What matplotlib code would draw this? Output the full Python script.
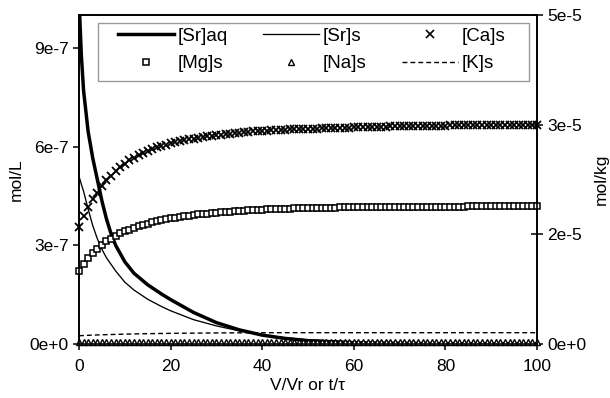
import matplotlib
matplotlib.use("Agg")
import matplotlib.pyplot as plt
from matplotlib.lines import Line2D
from matplotlib.patches import Rectangle

plt.rcParams['font.family'] = ['Liberation Sans', 'DejaVu Sans']
plt.rcParams['font.size'] = 12.5

# ------- data (micromol units; axes are labelled in mol)
# marker series, one point per unit of V/Vr
t_pts = list(range(0, 101))

ca_s = [17.8, 19.4, 20.8, 22.0, 23.0, 24.0, 24.9, 25.6, 26.3, 26.9, 27.4,
        27.9, 28.3, 28.7, 29.0, 29.3, 29.6, 29.9, 30.1, 30.3, 30.5,
        30.7, 30.85, 31.0, 31.1, 31.2, 31.35, 31.45, 31.55, 31.65, 31.7,
        31.8, 31.85, 31.95, 32.0, 32.1, 32.15, 32.2, 32.3, 32.3, 32.35,
        32.4, 32.45, 32.5, 32.5, 32.55, 32.6, 32.6, 32.65, 32.7, 32.7,
        32.75, 32.75, 32.8, 32.8, 32.85, 32.85, 32.9, 32.9, 32.9, 32.95,
        32.95, 33.0, 33.0, 33.0, 33.05, 33.05, 33.05, 33.1, 33.1, 33.1,
        33.1, 33.15, 33.15, 33.15, 33.15, 33.2, 33.2, 33.2, 33.2, 33.2,
        33.25, 33.25, 33.25, 33.25, 33.25, 33.25, 33.3, 33.3, 33.3, 33.3,
        33.3, 33.3, 33.3, 33.3, 33.3, 33.3, 33.3, 33.35, 33.35, 33.35]

mg_s = [11.1, 12.2, 13.1, 13.9, 14.5, 15.1, 15.6, 16.0, 16.4, 16.8, 17.1,
        17.4, 17.6, 17.9, 18.1, 18.3, 18.5, 18.7, 18.85, 19.0, 19.1,
        19.2, 19.3, 19.4, 19.5, 19.6, 19.7, 19.75, 19.8, 19.9, 19.95,
        20.0, 20.05, 20.1, 20.15, 20.2, 20.25, 20.3, 20.35, 20.4, 20.4,
        20.45, 20.45, 20.5, 20.5, 20.55, 20.55, 20.6, 20.6, 20.6, 20.65,
        20.65, 20.65, 20.7, 20.7, 20.7, 20.7, 20.75, 20.75, 20.75, 20.75,
        20.8, 20.8, 20.8, 20.8, 20.8, 20.8, 20.8, 20.8, 20.8, 20.8,
        20.8, 20.8, 20.8, 20.85, 20.85, 20.85, 20.85, 20.85, 20.85, 20.85,
        20.85, 20.85, 20.85, 20.85, 20.9, 20.9, 20.9, 20.9, 20.9, 20.9,
        20.9, 20.9, 20.9, 20.9, 20.9, 20.9, 20.9, 20.9, 20.9, 20.9]

na_s = [0.25] * len(t_pts)

# line series
t_line = [0, 0.5, 1, 2, 3, 4, 5, 6, 7, 8, 10, 12, 15, 18, 20, 25, 30, 35, 40,
          45, 50, 60, 70, 80, 90, 100]
sr_aq = [1.05, 0.88, 0.77, 0.645, 0.565, 0.50, 0.435, 0.38, 0.335, 0.30, 0.25,
         0.215, 0.18, 0.152, 0.135, 0.096, 0.065, 0.043, 0.027, 0.017, 0.010,
         0.004, 0.002, 0.001, 0.0005, 0.0003]
sr_s = [25.5, 24.3, 23.2, 20.5, 18.0, 16.0, 14.4, 13.1, 12.1, 11.1, 9.4, 8.2,
        6.8, 5.7, 5.05, 3.7, 2.75, 2.0, 1.35, 0.95, 0.65, 0.3, 0.13, 0.06,
        0.03, 0.01]
k_s = [1.25, 1.27, 1.29, 1.32, 1.35, 1.38, 1.40, 1.42, 1.44, 1.46, 1.50, 1.53,
       1.57, 1.60, 1.62, 1.65, 1.68, 1.70, 1.71, 1.72, 1.72, 1.72, 1.72, 1.72,
       1.72, 1.72]

x_ticks = [0, 20, 40, 60, 80, 100]
left_ticks = [0, 0.3, 0.6, 0.9]
left_labels = ["0e+0", "3e-7", "6e-7", "9e-7"]
right_ticks = [0, 50 / 3, 100 / 3, 50]
right_labels = ["0e+0", "2e-5", "3e-5", "5e-5"]

# ------- figure
fig = plt.figure(figsize=(6.1, 3.98), dpi=100)
ax = fig.add_axes([79 / 610, 54 / 398, 458 / 610, 329 / 398])
ax2 = ax.twinx()

ax.plot(t_line, sr_aq, color='black', lw=2.5, solid_capstyle='butt')
ax2.plot(t_line, sr_s, color='black', lw=0.95)
ax2.plot(t_line, k_s, color='black', lw=1.0, dashes=(3.5, 2.2))
ax2.plot(t_pts, na_s, ls='none', marker='^', ms=4.0, mfc='white',
         mec='black', mew=1.0, clip_on=False)
ax2.plot(t_pts, mg_s, ls='none', marker='s', ms=5.0, mfc='white',
         mec='black', mew=1.1, clip_on=False)
ax2.plot(t_pts, ca_s, ls='none', marker='x', ms=6.3, color='black',
         mew=1.3, clip_on=False)

ax.set_xlim(0, 100)
ax.set_ylim(0, 1.0)
ax2.set_ylim(0, 50)
ax.set_xticks(x_ticks)
ax.set_yticks(left_ticks)
ax.set_yticklabels(left_labels)
ax2.set_yticks(right_ticks)
ax2.set_yticklabels(right_labels)

ax.tick_params(axis='y', direction='out', length=4.5, width=1.1, pad=3)
ax.tick_params(axis='x', direction='out', length=4.5, width=1.1, pad=6)
ax2.tick_params(axis='y', direction='inout', length=9, width=1.1, pad=3)
for a in (ax, ax2):
    for s in a.spines.values():
        s.set_linewidth(1.2)

ax.set_xlabel("V/Vr or t/\u03c4", labelpad=3)
ax.set_ylabel("mol/L", labelpad=4)
ax2.set_ylabel("mol/kg", labelpad=5)

# legend box (drawn separately so its padding matches the original)
box = Rectangle((0.0415, 0.7994), 0.941, 0.1763, transform=ax2.transAxes,
                facecolor='white', edgecolor='#9a9a9a', lw=1.0,
                zorder=4, clip_on=False)
ax2.add_patch(box)

handles = [
    Line2D([], [], color='black', lw=2.5),
    Line2D([], [], ls='none', marker='s', ms=4.5, mfc='white', mec='black', mew=1.1),
    Line2D([], [], color='black', lw=0.95),
    Line2D([], [], ls='none', marker='^', ms=4.0, mfc='white', mec='black', mew=1.0),
    Line2D([], [], ls='none', marker='x', ms=5.5, color='black', mew=1.2),
    Line2D([], [], color='black', lw=1.0, dashes=(3.5, 2.2)),
]
labels = ["[Sr]aq", "[Mg]s", "[Sr]s", "[Na]s", "[Ca]s", "[K]s"]
leg = ax2.legend(handles, labels, ncol=3, loc='upper left', mode='expand',
                 bbox_to_anchor=(0.074, 0.976, 0.867, 0), borderaxespad=0,
                 frameon=False, handlelength=3.0, handletextpad=0.2,
                 labelspacing=0.55, borderpad=0.25, fontsize=13.5)
leg.set_zorder(5)

plt.savefig("out.png", dpi=100)
